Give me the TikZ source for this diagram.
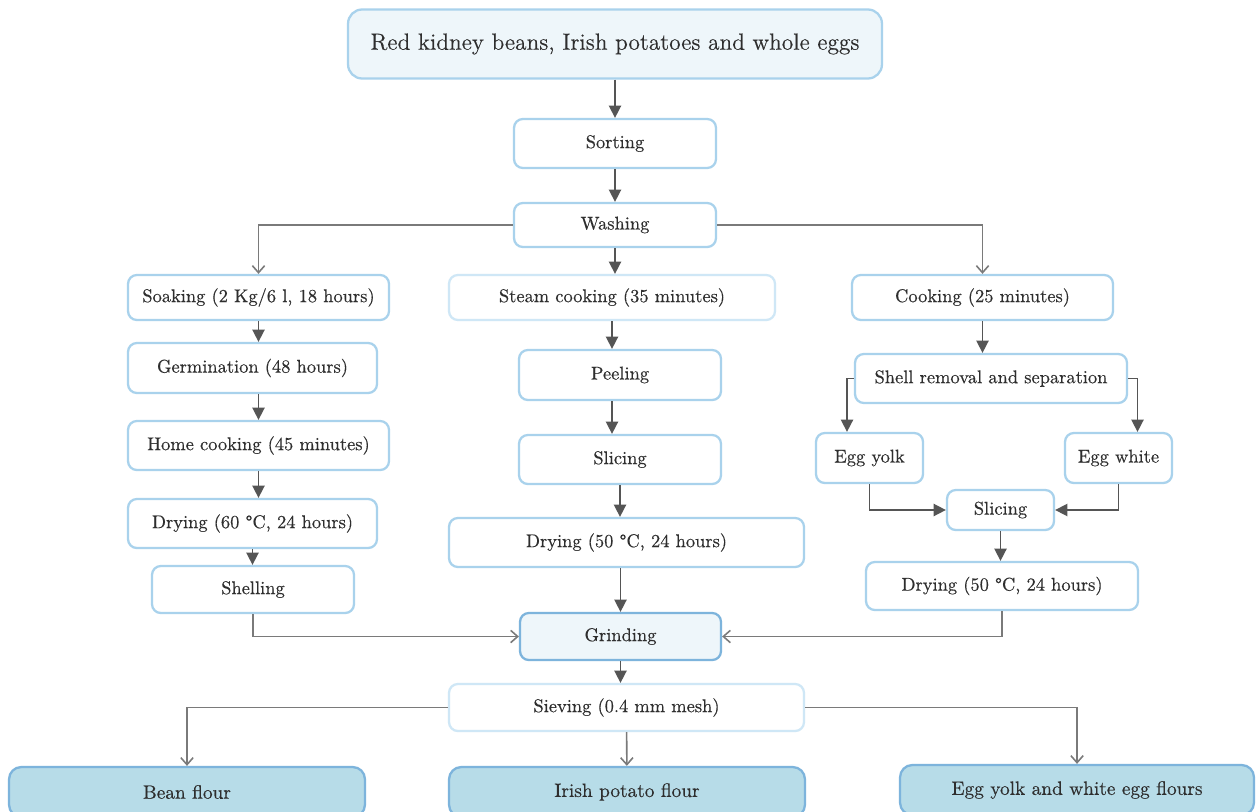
\documentclass[tikz,border=0pt]{standalone}
\usepackage{fontspec}
\setmainfont{Latin Modern Roman}[FakeBold=0.35]
\usetikzlibrary{arrows.meta,positioning}
\definecolor{boxline}{HTML}{A9D2EC}
\definecolor{paleline}{HTML}{CFE7F6}
\definecolor{darkline}{HTML}{7DB4DC}
\definecolor{palefill}{HTML}{EEF6FA}
\definecolor{flourfill}{HTML}{B7DCE8}
\definecolor{arrowgray}{HTML}{555555}
\definecolor{linegray}{HTML}{7A7A7A}
\definecolor{txt}{HTML}{2E2E2E}
\tikzset{
  stepbox/.style={rectangle, rounded corners=5pt, draw=boxline, line width=1.3pt, fill=white, text=txt, inner sep=2pt, font=\fontsize{10.5}{12}\selectfont},
  palebox/.style={stepbox, draw=paleline},
  srcbox/.style={stepbox, fill=palefill, rounded corners=8pt, font=\fontsize{13.3}{15}\selectfont},
  grindbox/.style={stepbox, fill=palefill, draw=darkline},
  flourbox/.style={stepbox, fill=flourfill, draw=darkline, rounded corners=7pt, font=\fontsize{11}{13}\selectfont},
  flow/.style={draw=arrowgray, line width=0.9pt, -{Triangle[length=7pt,width=7pt]}},
  merge/.style={draw=linegray, line width=0.9pt, -{Straight Barb[length=4pt,width=7pt]}}
}
\begin{document}
\begin{tikzpicture}[x=0.02cm,y=-0.02cm]
  \clip (0,0) rectangle (1256,811);
  \fill[white] (0,0) rectangle (1256,811);

  % common trunk
  \node[srcbox, minimum width=10.68cm, minimum height=1.38cm] (raw) at (615,44) {Red kidney beans, Irish potatoes and whole eggs};
  \node[stepbox, minimum width=4.04cm, minimum height=0.98cm] (sort) at (615,143.5) {Sorting};
  \node[stepbox, minimum width=4.04cm, minimum height=0.88cm] (wash) at (615,225) {Washing};

  % beans
  \node[stepbox, minimum width=5.22cm, minimum height=0.9cm] (soak) at (258.5,297.5) {Soaking (2 Kg/6 l, 18 hours)};
  \node[stepbox, minimum width=4.98cm, minimum height=1cm] (germ) at (252.5,368) {Germination (48 hours)};
  \node[stepbox, minimum width=5.22cm, minimum height=0.98cm] (homecook) at (258.5,445.5) {Home cooking (45 minutes)};
  \node[stepbox, minimum width=4.98cm, minimum height=0.98cm] (drybean) at (252.5,523.5) {Drying (60 \textdegree C, 24 hours)};
  \node[stepbox, minimum width=4.04cm, minimum height=0.94cm] (shell) at (253,589.5) {Shelling};

  % potatoes
  \node[palebox, minimum width=6.52cm, minimum height=0.9cm] (steam) at (612,297.5) {Steam cooking (35 minutes)};
  \node[stepbox, minimum width=4.04cm, minimum height=1cm] (peel) at (620,375) {Peeling};
  \node[stepbox, minimum width=4.04cm, minimum height=0.98cm] (slicepot) at (620,459.5) {Slicing};
  \node[stepbox, minimum width=7.1cm, minimum height=0.98cm] (drypot) at (626.5,542.5) {Drying (50 \textdegree C, 24 hours)};

  % eggs
  \node[stepbox, minimum width=5.22cm, minimum height=0.9cm] (cook) at (982.5,297.5) {Cooking (25 minutes)};
  \node[stepbox, minimum width=5.44cm, minimum height=0.98cm] (separ) at (991,378.5) {Shell removal and separation};
  \node[stepbox, minimum width=2.14cm, minimum height=1cm] (yolk) at (869.5,458) {Egg yolk};
  \node[stepbox, minimum width=2.14cm, minimum height=1cm] (white) at (1118.5,458) {Egg white};
  \node[stepbox, minimum width=2.14cm, minimum height=0.8cm] (sliceegg) at (1000.5,510) {Slicing};
  \node[stepbox, minimum width=5.44cm, minimum height=0.96cm] (dryegg) at (1002,586) {Drying (50 \textdegree C, 24 hours)};

  % final steps
  \node[grindbox, minimum width=4.02cm, minimum height=0.94cm] (grind) at (620.5,636.5) {Grinding};
  \node[palebox, minimum width=7.1cm, minimum height=0.94cm] (sieve) at (626.5,707.5) {Sieving (0.4 mm mesh)};
  \node[flourbox, minimum width=7.12cm, minimum height=1cm] (beanflour) at (187,792) {Bean flour};
  \node[flourbox, minimum width=7.12cm, minimum height=1cm] (potflour) at (627,792) {Irish potato flour};
  \node[flourbox, minimum width=7.08cm, minimum height=1cm] (eggflour) at (1077,790) {Egg yolk and white egg flours};

  \path[flow] (raw) -- (sort);
  \path[flow] (sort) -- (wash);
  \path[flow] (wash) -- (wash |- steam.north);
  \path[merge] (wash.west) -| (soak.north);
  \path[merge] (wash.east) -| (cook.north);

  \path[flow] (soak) -- (soak |- germ.north);
  \path[flow] (germ.south -| soak) -- (homecook);
  \path[flow] (homecook) -- (homecook |- drybean.north);
  \path[flow] (drybean) -- (drybean |- shell.north);

  \path[flow] (steam) -- (steam |- peel.north);
  \path[flow] (peel.south -| steam) -- (steam |- slicepot.north);
  \path[flow] (slicepot) -- (slicepot |- drypot.north);
  \path[flow] (drypot.south -| grind) -- (grind);

  \path[flow] (cook) -- (cook |- separ.north);
  \path[flow] (separ.west) -| ([xshift=-0.45cm]yolk.north);
  \path[flow] (separ.east) -| ([xshift=0.38cm]white.north);
  \path[flow] (yolk) |- (sliceegg);
  \path[flow] (white) |- (sliceegg);
  \path[flow] (sliceegg) -- (sliceegg |- dryegg.north);

  \path[merge] (shell) |- (grind);
  \path[merge] (dryegg) |- (grind);
  \path[flow] (grind) -- (grind |- sieve.north);
  \path[merge] (sieve.west) -| (beanflour.north);
  \path[merge] (sieve) -- (potflour);
  \path[merge] (sieve.east) -| (eggflour.north);
\end{tikzpicture}
\end{document}
